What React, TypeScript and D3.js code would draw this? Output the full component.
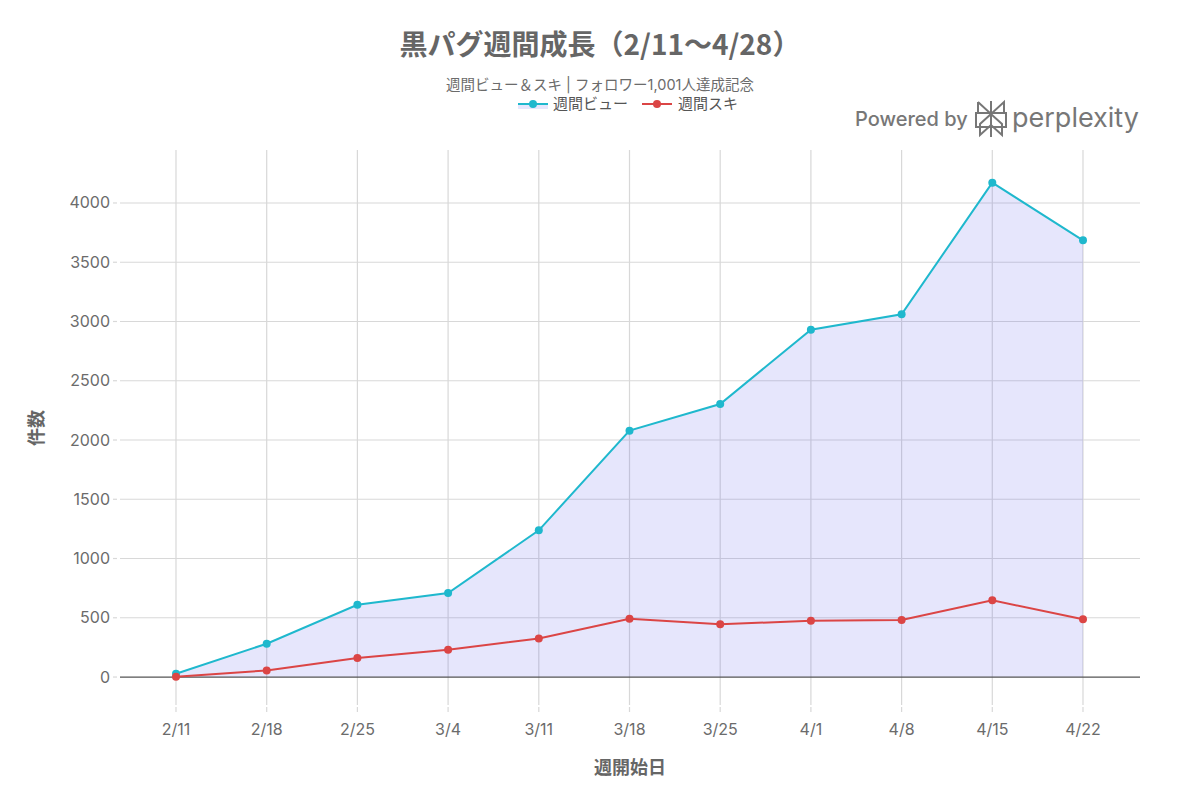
import * as d3 from "d3";

const weeks = ["2/11", "2/18", "2/25", "3/4", "3/11", "3/18", "3/25", "4/1", "4/8", "4/15", "4/22"];
const views = [28, 281, 610, 709, 1238, 2079, 2304, 2931, 3061, 4171, 3685];
const likes = [3, 56, 160, 231, 326, 492, 445, 475, 481, 647, 487];
const yTicks = [0, 500, 1000, 1500, 2000, 2500, 3000, 3500, 4000];

const W = 1200;
const H = 800;
const plot = { left: 120, right: 1140, top: 150, bottom: 705 };
const font = "Inter, 'Noto Sans CJK JP', sans-serif";
const jp = "'Noto Sans CJK JP', Inter, sans-serif";

const BLUE = "#1FB8CD";
const RED = "#DB4545";
const GRID = "#d8d8d8";
const TXT = "#6b6b6b";

export default function App() {
  const x = d3.scalePoint<string>().domain(weeks).range([176, 1083]);
  const y = d3.scaleLinear().domain([-236, 4447]).range([plot.bottom, plot.top]);

  const line = d3
    .line<number>()
    .x((_, i) => x(weeks[i])!)
    .y((d) => y(d));
  const area = d3
    .area<number>()
    .x((_, i) => x(weeks[i])!)
    .y0(y(0))
    .y1((d) => y(d));

  return (
    <svg width={W} height={H} style={{ position: "absolute", left: 0, top: 0, background: "#fff" }}>
      {/* titles */}
      <text x={600} y={55} textAnchor="middle" fontFamily={jp} fontSize={28} fontWeight={700} fill="#666">
        黒パグ週間成長（2/11〜4/28）
      </text>
      <text x={600} y={90} textAnchor="middle" fontFamily={font} fontSize={14.5} fill={TXT}>
        週間ビュー＆スキ | フォロワー1,001人達成記念
      </text>

      {/* legend */}
      <g>
        <rect x={518} y={104} width={30} height={5} fill="rgba(90,90,235,0.15)" />
        <line x1={518} x2={548} y1={104} y2={104} stroke={BLUE} strokeWidth={2} />
        <circle cx={533} cy={104} r={4} fill={BLUE} />
        <text x={553} y={109} fontFamily={jp} fontSize={15} fill="#555">週間ビュー</text>
        <line x1={642} x2={672} y1={104} y2={104} stroke={RED} strokeWidth={2} />
        <circle cx={657} cy={104} r={4} fill={RED} />
        <text x={678} y={109} fontFamily={jp} fontSize={15} fill="#555">週間スキ</text>
      </g>

      {/* powered by */}
      <g fill="#777" stroke="none">
        <text x={855} y={126} fontFamily={font} fontSize={20} fontWeight={500} fill="#777">Powered by</text>
        <g fill="none" stroke="#777" strokeWidth={2}>
          <path d="M991 101 V137" />
          <path d="M978 102 L991 114 L1004 102 V113 M978 102 V113" />
          <path d="M976 113 H1006 V127 H976 Z" />
          <path d="M991 114 L980 124 V135 L991 125 L1002 135 V124 Z" />
        </g>
        <text x={1012} y={127} fontFamily={font} fontSize={27} fill="#777">perplexity</text>
      </g>

      {/* grid */}
      <g>
        {weeks.map((w) => (
          <g key={w}>
            <line x1={x(w)} x2={x(w)} y1={plot.top} y2={plot.bottom} stroke={GRID} strokeWidth={1.2} />
            <line x1={x(w)} x2={x(w)} y1={plot.bottom + 2} y2={plot.bottom + 7} stroke={GRID} strokeWidth={1.2} />
            <text x={x(w)} y={735} textAnchor="middle" fontFamily={font} fontSize={16} fill={TXT}>
              {w}
            </text>
          </g>
        ))}
        {yTicks.map((t) => (
          <g key={t}>
            {t !== 0 && (
              <line x1={plot.left} x2={plot.right} y1={y(t)} y2={y(t)} stroke={GRID} strokeWidth={1.2} />
            )}
            <line x1={113} x2={117} y1={y(t)} y2={y(t)} stroke={GRID} strokeWidth={1.2} />
            <text x={110} y={y(t) + 5.5} textAnchor="end" fontFamily={font} fontSize={16} fill={TXT}>
              {t}
            </text>
          </g>
        ))}
      </g>

      {/* series */}
      <path d={area(views)!} fill="rgba(90,90,235,0.15)" />
      <line x1={plot.left} x2={plot.right} y1={y(0)} y2={y(0)} stroke="#555" strokeWidth={1.2} />
      <path d={line(views)!} fill="none" stroke={BLUE} strokeWidth={2} />
      {views.map((v, i) => (
        <circle key={"v" + i} cx={x(weeks[i])} cy={y(v)} r={4} fill={BLUE} />
      ))}
      <path d={line(likes)!} fill="none" stroke={RED} strokeWidth={2} />
      {likes.map((v, i) => (
        <circle key={"l" + i} cx={x(weeks[i])} cy={y(v)} r={4} fill={RED} />
      ))}

      {/* axis titles */}
      <text x={630} y={774} textAnchor="middle" fontFamily={jp} fontSize={18} fontWeight={700} fill="#666">
        週開始日
      </text>
      <text
        transform={`translate(43,${y(2000) - 12}) rotate(-90)`}
        textAnchor="middle"
        fontFamily={jp}
        fontSize={18}
        fontWeight={700}
        fill="#666"
      >
        件数
      </text>
    </svg>
  );
}
